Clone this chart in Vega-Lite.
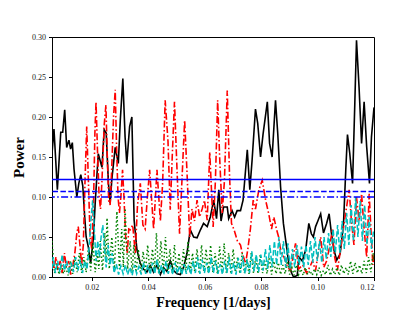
{
  "$schema": "https://vega.github.io/schema/vega-lite/v6.json",
  "width": 322,
  "height": 240,
  "autosize": {"type": "none"},
  "padding": {"left": 52, "top": 37, "right": 41, "bottom": 34},
  "background": "white",
  "config": {
    "view": {"stroke": "#000000", "strokeWidth": 1},
    "axis": {
      "grid": false,
      "domainColor": "#000000",
      "tickColor": "#000000",
      "tickSize": 3.5,
      "labelFont": "Liberation Serif",
      "labelFontSize": 8,
      "labelColor": "#222222",
      "labelPadding": 3,
      "titleFont": "Liberation Serif",
      "titleFontWeight": "bold",
      "titleFontSize": 15,
      "titleColor": "#000000"
    }
  },
  "datasets": {
    "black": [
      {"f":0.0059,"p":0.154},{"f":0.0066,"p":0.185},{"f":0.0078,"p":0.109},{"f":0.0090,"p":0.181},{"f":0.0097,"p":0.181},{"f":0.0104,"p":0.209},{"f":0.0111,"p":0.162},{"f":0.0119,"p":0.171},{"f":0.0125,"p":0.160},{"f":0.0131,"p":0.168},{"f":0.0137,"p":0.135},{"f":0.0147,"p":0.100},{"f":0.0154,"p":0.117},{"f":0.0161,"p":0.128},{"f":0.0168,"p":0.114},{"f":0.0175,"p":0.075},{"f":0.0180,"p":0.050},{"f":0.0188,"p":0.037},{"f":0.0196,"p":0.017},{"f":0.0206,"p":0.050},{"f":0.0212,"p":0.092},{"f":0.0223,"p":0.154},{"f":0.0236,"p":0.137},{"f":0.0244,"p":0.184},{"f":0.0251,"p":0.180},{"f":0.0259,"p":0.117},{"f":0.0265,"p":0.092},{"f":0.0271,"p":0.122},{"f":0.0283,"p":0.162},{"f":0.0294,"p":0.142},{"f":0.0301,"p":0.196},{"f":0.0310,"p":0.248},{"f":0.0318,"p":0.175},{"f":0.0324,"p":0.142},{"f":0.0334,"p":0.188},{"f":0.0342,"p":0.200},{"f":0.0346,"p":0.134},{"f":0.0350,"p":0.071},{"f":0.0360,"p":0.034},{"f":0.0372,"p":0.017},{"f":0.0383,"p":0.010},{"f":0.0395,"p":0.006},{"f":0.0407,"p":0.014},{"f":0.0419,"p":0.006},{"f":0.0431,"p":0.015},{"f":0.0443,"p":0.003},{"f":0.0454,"p":0.012},{"f":0.0466,"p":0.007},{"f":0.0478,"p":0.020},{"f":0.0490,"p":0.008},{"f":0.0502,"p":0.004},{"f":0.0514,"p":0.003},{"f":0.0525,"p":0.012},{"f":0.0537,"p":0.029},{"f":0.0549,"p":0.059},{"f":0.0561,"p":0.050},{"f":0.0573,"p":0.049},{"f":0.0585,"p":0.059},{"f":0.0596,"p":0.067},{"f":0.0609,"p":0.063},{"f":0.0620,"p":0.075},{"f":0.0632,"p":0.096},{"f":0.0642,"p":0.073},{"f":0.0650,"p":0.109},{"f":0.0658,"p":0.070},{"f":0.0667,"p":0.0875},{"f":0.0680,"p":0.0875},{"f":0.0685,"p":0.073},{"f":0.0697,"p":0.083},{"f":0.0706,"p":0.075},{"f":0.0715,"p":0.083},{"f":0.0727,"p":0.083},{"f":0.0736,"p":0.096},{"f":0.0745,"p":0.134},{"f":0.0751,"p":0.159},{"f":0.0760,"p":0.109},{"f":0.0768,"p":0.146},{"f":0.0780,"p":0.210},{"f":0.0788,"p":0.192},{"f":0.0798,"p":0.150},{"f":0.0807,"p":0.179},{"f":0.0822,"p":0.219},{"f":0.0830,"p":0.167},{"f":0.0839,"p":0.150},{"f":0.0851,"p":0.221},{"f":0.0859,"p":0.179},{"f":0.0869,"p":0.1125},{"f":0.0879,"p":0.067},{"f":0.0887,"p":0.046},{"f":0.0898,"p":0.017},{"f":0.0908,"p":0.005},{"f":0.0915,"p":0.000},{"f":0.0928,"p":0.002},{"f":0.0934,"p":0.025},{"f":0.0946,"p":0.020},{"f":0.0958,"p":0.034},{"f":0.0969,"p":0.067},{"f":0.0978,"p":0.054},{"f":0.0985,"p":0.050},{"f":0.0993,"p":0.063},{"f":0.1001,"p":0.070},{"f":0.1011,"p":0.079},{"f":0.1021,"p":0.055},{"f":0.1032,"p":0.067},{"f":0.1041,"p":0.079},{"f":0.1049,"p":0.055},{"f":0.1058,"p":0.034},{"f":0.1068,"p":0.021},{"f":0.1080,"p":0.029},{"f":0.1092,"p":0.067},{"f":0.1100,"p":0.134},{"f":0.1106,"p":0.178},{"f":0.1114,"p":0.155},{"f":0.1124,"p":0.117},{"f":0.1132,"p":0.217},{"f":0.1138,"p":0.296},{"f":0.1147,"p":0.2375},{"f":0.1156,"p":0.167},{"f":0.1165,"p":0.219},{"f":0.1174,"p":0.163},{"f":0.1184,"p":0.117},{"f":0.1191,"p":0.175},{"f":0.1200,"p":0.212}
    ],
    "red": [
      {"f":0.0059,"p":0.020},{"f":0.0066,"p":0.010},{"f":0.0073,"p":0.025},{"f":0.0080,"p":0.008},{"f":0.0088,"p":0.020},{"f":0.0095,"p":0.005},{"f":0.0103,"p":0.030},{"f":0.0110,"p":0.012},{"f":0.0118,"p":0.020},{"f":0.0125,"p":0.003},{"f":0.0133,"p":0.015},{"f":0.0140,"p":0.030},{"f":0.0147,"p":0.055},{"f":0.0152,"p":0.063},{"f":0.0158,"p":0.040},{"f":0.0164,"p":0.015},{"f":0.0170,"p":0.040},{"f":0.0176,"p":0.120},{"f":0.0182,"p":0.188},{"f":0.0188,"p":0.120},{"f":0.0194,"p":0.050},{"f":0.0200,"p":0.035},{"f":0.0206,"p":0.090},{"f":0.0211,"p":0.180},{"f":0.0215,"p":0.219},{"f":0.0220,"p":0.160},{"f":0.0226,"p":0.100},{"f":0.0231,"p":0.085},{"f":0.0236,"p":0.120},{"f":0.0244,"p":0.190},{"f":0.0250,"p":0.215},{"f":0.0255,"p":0.150},{"f":0.0260,"p":0.095},{"f":0.0265,"p":0.090},{"f":0.0270,"p":0.130},{"f":0.0277,"p":0.200},{"f":0.0283,"p":0.234},{"f":0.0288,"p":0.160},{"f":0.0293,"p":0.100},{"f":0.0298,"p":0.080},{"f":0.0303,"p":0.100},{"f":0.0309,"p":0.134},{"f":0.0314,"p":0.100},{"f":0.0320,"p":0.050},{"f":0.0326,"p":0.030},{"f":0.0331,"p":0.060},{"f":0.0336,"p":0.059},{"f":0.0345,"p":0.065},{"f":0.0354,"p":0.030},{"f":0.0362,"p":0.090},{"f":0.0372,"p":0.117},{"f":0.0381,"p":0.065},{"f":0.0389,"p":0.060},{"f":0.0397,"p":0.100},{"f":0.0405,"p":0.134},{"f":0.0419,"p":0.060},{"f":0.0431,"p":0.134},{"f":0.0443,"p":0.070},{"f":0.0451,"p":0.117},{"f":0.0460,"p":0.221},{"f":0.0470,"p":0.170},{"f":0.0478,"p":0.084},{"f":0.0485,"p":0.150},{"f":0.0493,"p":0.219},{"f":0.0502,"p":0.134},{"f":0.0511,"p":0.054},{"f":0.0520,"p":0.125},{"f":0.0529,"p":0.196},{"f":0.0537,"p":0.134},{"f":0.0547,"p":0.050},{"f":0.0555,"p":0.085},{"f":0.0564,"p":0.070},{"f":0.0573,"p":0.096},{"f":0.0582,"p":0.075},{"f":0.0591,"p":0.085},{"f":0.0599,"p":0.096},{"f":0.0609,"p":0.071},{"f":0.0618,"p":0.156},{"f":0.0630,"p":0.0625},{"f":0.0638,"p":0.120},{"f":0.0646,"p":0.221},{"f":0.0653,"p":0.150},{"f":0.0662,"p":0.080},{"f":0.0670,"p":0.120},{"f":0.0680,"p":0.233},{"f":0.0688,"p":0.128},{"f":0.0695,"p":0.067},{"f":0.0705,"p":0.058},{"f":0.0716,"p":0.045},{"f":0.0727,"p":0.040},{"f":0.0733,"p":0.030},{"f":0.0745,"p":0.017},{"f":0.0753,"p":0.035},{"f":0.0762,"p":0.060},{"f":0.0772,"p":0.096},{"f":0.0780,"p":0.085},{"f":0.0792,"p":0.109},{"f":0.0804,"p":0.121},{"f":0.0816,"p":0.096},{"f":0.0827,"p":0.079},{"f":0.0837,"p":0.060},{"f":0.0845,"p":0.075},{"f":0.0855,"p":0.059},{"f":0.0862,"p":0.050},{"f":0.0871,"p":0.030},{"f":0.0881,"p":0.025},{"f":0.0893,"p":0.013},{"f":0.0904,"p":0.008},{"f":0.0913,"p":0.025},{"f":0.0922,"p":0.042},{"f":0.0933,"p":0.010},{"f":0.0947,"p":0.015},{"f":0.0961,"p":0.005},{"f":0.0972,"p":0.012},{"f":0.0982,"p":0.020},{"f":0.0993,"p":0.008},{"f":0.1004,"p":0.035},{"f":0.1011,"p":0.050},{"f":0.1022,"p":0.012},{"f":0.1032,"p":0.020},{"f":0.1041,"p":0.035},{"f":0.1053,"p":0.060},{"f":0.1058,"p":0.030},{"f":0.1070,"p":0.008},{"f":0.1082,"p":0.035},{"f":0.1094,"p":0.067},{"f":0.1103,"p":0.088},{"f":0.1112,"p":0.109},{"f":0.1120,"p":0.070},{"f":0.1129,"p":0.040},{"f":0.1138,"p":0.100},{"f":0.1147,"p":0.070},{"f":0.1156,"p":0.104},{"f":0.1165,"p":0.060},{"f":0.1174,"p":0.025},{"f":0.1183,"p":0.104},{"f":0.1189,"p":0.060},{"f":0.1196,"p":0.015},{"f":0.1200,"p":0.030}
    ],
    "green": [
      {"f":0.0059,"p":0.045},{"f":0.0068,"p":0.005},{"f":0.0076,"p":0.018},{"f":0.0084,"p":0.003},{"f":0.0092,"p":0.015},{"f":0.0100,"p":0.004},{"f":0.0108,"p":0.012},{"f":0.0116,"p":0.002},{"f":0.0124,"p":0.020},{"f":0.0132,"p":0.004},{"f":0.0140,"p":0.025},{"f":0.0148,"p":0.006},{"f":0.0156,"p":0.030},{"f":0.0164,"p":0.005},{"f":0.0172,"p":0.025},{"f":0.0180,"p":0.006},{"f":0.0188,"p":0.035},{"f":0.0196,"p":0.008},{"f":0.0204,"p":0.042},{"f":0.0212,"p":0.006},{"f":0.0220,"p":0.030},{"f":0.0225,"p":0.010},{"f":0.0230,"p":0.045},{"f":0.0238,"p":0.008},{"f":0.0246,"p":0.055},{"f":0.0250,"p":0.020},{"f":0.0254,"p":0.074},{"f":0.0262,"p":0.010},{"f":0.0271,"p":0.050},{"f":0.0280,"p":0.008},{"f":0.0289,"p":0.082},{"f":0.0298,"p":0.010},{"f":0.0306,"p":0.060},{"f":0.0312,"p":0.012},{"f":0.0318,"p":0.086},{"f":0.0327,"p":0.010},{"f":0.0336,"p":0.045},{"f":0.0343,"p":0.005},{"f":0.0349,"p":0.040},{"f":0.0357,"p":0.006},{"f":0.0365,"p":0.035},{"f":0.0373,"p":0.004},{"f":0.0382,"p":0.032},{"f":0.0390,"p":0.006},{"f":0.0398,"p":0.040},{"f":0.0406,"p":0.005},{"f":0.0415,"p":0.035},{"f":0.0422,"p":0.008},{"f":0.0429,"p":0.055},{"f":0.0437,"p":0.005},{"f":0.0445,"p":0.045},{"f":0.0453,"p":0.006},{"f":0.0461,"p":0.050},{"f":0.0469,"p":0.008},{"f":0.0477,"p":0.035},{"f":0.0485,"p":0.005},{"f":0.0493,"p":0.040},{"f":0.0501,"p":0.006},{"f":0.0509,"p":0.030},{"f":0.0517,"p":0.004},{"f":0.0525,"p":0.035},{"f":0.0533,"p":0.006},{"f":0.0541,"p":0.045},{"f":0.0549,"p":0.005},{"f":0.0557,"p":0.030},{"f":0.0565,"p":0.006},{"f":0.0573,"p":0.035},{"f":0.0581,"p":0.004},{"f":0.0589,"p":0.040},{"f":0.0597,"p":0.006},{"f":0.0605,"p":0.035},{"f":0.0613,"p":0.005},{"f":0.0621,"p":0.040},{"f":0.0629,"p":0.006},{"f":0.0637,"p":0.030},{"f":0.0645,"p":0.004},{"f":0.0653,"p":0.038},{"f":0.0661,"p":0.006},{"f":0.0669,"p":0.042},{"f":0.0677,"p":0.005},{"f":0.0685,"p":0.030},{"f":0.0693,"p":0.004},{"f":0.0701,"p":0.035},{"f":0.0709,"p":0.006},{"f":0.0717,"p":0.025},{"f":0.0725,"p":0.004},{"f":0.0733,"p":0.030},{"f":0.0741,"p":0.005},{"f":0.0749,"p":0.022},{"f":0.0757,"p":0.004},{"f":0.0765,"p":0.030},{"f":0.0773,"p":0.005},{"f":0.0781,"p":0.025},{"f":0.0789,"p":0.004},{"f":0.0797,"p":0.028},{"f":0.0805,"p":0.005},{"f":0.0813,"p":0.020},{"f":0.0821,"p":0.004},{"f":0.0829,"p":0.025},{"f":0.0837,"p":0.003},{"f":0.0845,"p":0.020},{"f":0.0853,"p":0.004},{"f":0.0861,"p":0.018},{"f":0.0869,"p":0.003},{"f":0.0877,"p":0.015},{"f":0.0885,"p":0.004},{"f":0.0893,"p":0.020},{"f":0.0901,"p":0.003},{"f":0.0909,"p":0.012},{"f":0.0917,"p":0.002},{"f":0.0925,"p":0.015},{"f":0.0933,"p":0.003},{"f":0.0941,"p":0.010},{"f":0.0949,"p":0.002},{"f":0.0957,"p":0.012},{"f":0.0965,"p":0.003},{"f":0.0973,"p":0.008},{"f":0.0981,"p":0.002},{"f":0.0989,"p":0.010},{"f":0.0997,"p":0.003},{"f":0.1005,"p":0.012},{"f":0.1013,"p":0.002},{"f":0.1021,"p":0.008},{"f":0.1029,"p":0.003},{"f":0.1037,"p":0.015},{"f":0.1045,"p":0.002},{"f":0.1053,"p":0.010},{"f":0.1061,"p":0.003},{"f":0.1069,"p":0.012},{"f":0.1077,"p":0.002},{"f":0.1085,"p":0.015},{"f":0.1093,"p":0.004},{"f":0.1101,"p":0.012},{"f":0.1109,"p":0.003},{"f":0.1117,"p":0.020},{"f":0.1125,"p":0.004},{"f":0.1133,"p":0.018},{"f":0.1141,"p":0.005},{"f":0.1149,"p":0.015},{"f":0.1157,"p":0.004},{"f":0.1165,"p":0.020},{"f":0.1173,"p":0.005},{"f":0.1181,"p":0.025},{"f":0.1189,"p":0.006},{"f":0.1197,"p":0.030},{"f":0.1200,"p":0.020}
    ],
    "cyan": [
      {"f":0.0059,"p":0.010},{"f":0.0063,"p":0.025},{"f":0.0071,"p":0.005},{"f":0.0079,"p":0.020},{"f":0.0087,"p":0.006},{"f":0.0095,"p":0.028},{"f":0.0103,"p":0.008},{"f":0.0111,"p":0.020},{"f":0.0119,"p":0.004},{"f":0.0127,"p":0.018},{"f":0.0135,"p":0.006},{"f":0.0143,"p":0.025},{"f":0.0151,"p":0.008},{"f":0.0159,"p":0.022},{"f":0.0167,"p":0.005},{"f":0.0175,"p":0.020},{"f":0.0183,"p":0.010},{"f":0.0190,"p":0.035},{"f":0.0197,"p":0.070},{"f":0.0203,"p":0.096},{"f":0.0209,"p":0.060},{"f":0.0215,"p":0.020},{"f":0.0221,"p":0.045},{"f":0.0227,"p":0.025},{"f":0.0233,"p":0.050},{"f":0.0239,"p":0.065},{"f":0.0245,"p":0.035},{"f":0.0251,"p":0.012},{"f":0.0258,"p":0.040},{"f":0.0265,"p":0.015},{"f":0.0272,"p":0.030},{"f":0.0279,"p":0.005},{"f":0.0287,"p":0.016},{"f":0.0295,"p":0.003},{"f":0.0303,"p":0.014},{"f":0.0311,"p":0.004},{"f":0.0319,"p":0.015},{"f":0.0327,"p":0.003},{"f":0.0335,"p":0.012},{"f":0.0343,"p":0.002},{"f":0.0351,"p":0.015},{"f":0.0359,"p":0.004},{"f":0.0367,"p":0.013},{"f":0.0375,"p":0.003},{"f":0.0383,"p":0.018},{"f":0.0391,"p":0.004},{"f":0.0399,"p":0.015},{"f":0.0407,"p":0.003},{"f":0.0415,"p":0.018},{"f":0.0423,"p":0.004},{"f":0.0431,"p":0.022},{"f":0.0439,"p":0.004},{"f":0.0447,"p":0.015},{"f":0.0455,"p":0.003},{"f":0.0463,"p":0.020},{"f":0.0471,"p":0.004},{"f":0.0479,"p":0.015},{"f":0.0487,"p":0.003},{"f":0.0495,"p":0.018},{"f":0.0503,"p":0.004},{"f":0.0511,"p":0.014},{"f":0.0519,"p":0.003},{"f":0.0527,"p":0.016},{"f":0.0535,"p":0.004},{"f":0.0543,"p":0.015},{"f":0.0551,"p":0.003},{"f":0.0559,"p":0.020},{"f":0.0567,"p":0.005},{"f":0.0575,"p":0.025},{"f":0.0583,"p":0.004},{"f":0.0591,"p":0.022},{"f":0.0599,"p":0.005},{"f":0.0607,"p":0.018},{"f":0.0615,"p":0.004},{"f":0.0623,"p":0.025},{"f":0.0631,"p":0.005},{"f":0.0639,"p":0.020},{"f":0.0647,"p":0.004},{"f":0.0655,"p":0.016},{"f":0.0663,"p":0.003},{"f":0.0671,"p":0.020},{"f":0.0679,"p":0.005},{"f":0.0687,"p":0.025},{"f":0.0695,"p":0.004},{"f":0.0703,"p":0.018},{"f":0.0711,"p":0.003},{"f":0.0719,"p":0.024},{"f":0.0727,"p":0.005},{"f":0.0735,"p":0.026},{"f":0.0743,"p":0.004},{"f":0.0751,"p":0.022},{"f":0.0759,"p":0.005},{"f":0.0767,"p":0.032},{"f":0.0775,"p":0.007},{"f":0.0783,"p":0.028},{"f":0.0791,"p":0.006},{"f":0.0799,"p":0.028},{"f":0.0807,"p":0.008},{"f":0.0815,"p":0.035},{"f":0.0823,"p":0.010},{"f":0.0831,"p":0.040},{"f":0.0839,"p":0.012},{"f":0.0847,"p":0.045},{"f":0.0855,"p":0.015},{"f":0.0863,"p":0.050},{"f":0.0871,"p":0.015},{"f":0.0879,"p":0.045},{"f":0.0887,"p":0.012},{"f":0.0895,"p":0.042},{"f":0.0903,"p":0.010},{"f":0.0911,"p":0.035},{"f":0.0919,"p":0.012},{"f":0.0927,"p":0.040},{"f":0.0935,"p":0.015},{"f":0.0943,"p":0.038},{"f":0.0951,"p":0.012},{"f":0.0959,"p":0.040},{"f":0.0967,"p":0.015},{"f":0.0975,"p":0.045},{"f":0.0983,"p":0.018},{"f":0.0991,"p":0.050},{"f":0.0999,"p":0.020},{"f":0.1007,"p":0.045},{"f":0.1015,"p":0.018},{"f":0.1023,"p":0.050},{"f":0.1031,"p":0.022},{"f":0.1039,"p":0.055},{"f":0.1047,"p":0.025},{"f":0.1055,"p":0.060},{"f":0.1063,"p":0.030},{"f":0.1071,"p":0.065},{"f":0.1079,"p":0.030},{"f":0.1087,"p":0.070},{"f":0.1095,"p":0.035},{"f":0.1103,"p":0.080},{"f":0.1111,"p":0.040},{"f":0.1119,"p":0.090},{"f":0.1127,"p":0.045},{"f":0.1135,"p":0.100},{"f":0.1143,"p":0.050},{"f":0.1151,"p":0.095},{"f":0.1159,"p":0.045},{"f":0.1167,"p":0.090},{"f":0.1175,"p":0.040},{"f":0.1183,"p":0.075},{"f":0.1191,"p":0.035},{"f":0.1199,"p":0.060}
    ],
    "levels": [
      {"level": 0.122, "kind": "solid"},
      {"level": 0.107, "kind": "dashed"},
      {"level": 0.100, "kind": "dashdot"}
    ]
  },
  "encoding": {
    "x": {
      "field": "f", "type": "quantitative",
      "scale": {"domain": [0.0059, 0.12], "nice": false, "zero": false},
      "axis": {"values": [0.02, 0.04, 0.06, 0.08, 0.10, 0.12], "format": ".2f", "title": "Frequency [1/days]", "titleFontSize": 14, "titlePadding": 4}
    },
    "y": {
      "field": "p", "type": "quantitative",
      "scale": {"domain": [0, 0.30], "nice": false},
      "axis": {"values": [0, 0.05, 0.10, 0.15, 0.20, 0.25, 0.30], "format": ".2f", "title": "Power", "titlePadding": 5}
    }
  },
  "layer": [
    {"data": {"name": "black"}, "mark": {"type": "line", "color": "#000000", "strokeWidth": 1.6, "clip": true}},
    {"data": {"name": "red"}, "mark": {"type": "line", "color": "#ff0000", "strokeWidth": 1.6, "strokeDash": [7, 2.4, 1.5, 2.4], "clip": true}},
    {"data": {"name": "green"}, "mark": {"type": "line", "color": "#008000", "strokeWidth": 1.5, "strokeDash": [1.5, 2.5], "clip": true}},
    {"data": {"name": "cyan"}, "mark": {"type": "line", "color": "#00bfbf", "strokeWidth": 1.5, "strokeDash": [5.5, 2.4], "clip": true}},
    {"data": {"name": "levels"}, "transform": [{"filter": "datum.kind == 'solid'"}], "mark": {"type": "rule", "color": "#0000ff", "strokeWidth": 1.5}, "encoding": {"x": null, "y": {"field": "level", "type": "quantitative"}}},
    {"data": {"name": "levels"}, "transform": [{"filter": "datum.kind == 'dashed'"}], "mark": {"type": "rule", "color": "#0000ff", "strokeWidth": 1.5, "strokeDash": [5.5, 2.4]}, "encoding": {"x": null, "y": {"field": "level", "type": "quantitative"}}},
    {"data": {"name": "levels"}, "transform": [{"filter": "datum.kind == 'dashdot'"}], "mark": {"type": "rule", "color": "#0000ff", "strokeWidth": 1.5, "strokeDash": [7, 2.4, 1.5, 2.4]}, "encoding": {"x": null, "y": {"field": "level", "type": "quantitative"}}}
  ]
}
